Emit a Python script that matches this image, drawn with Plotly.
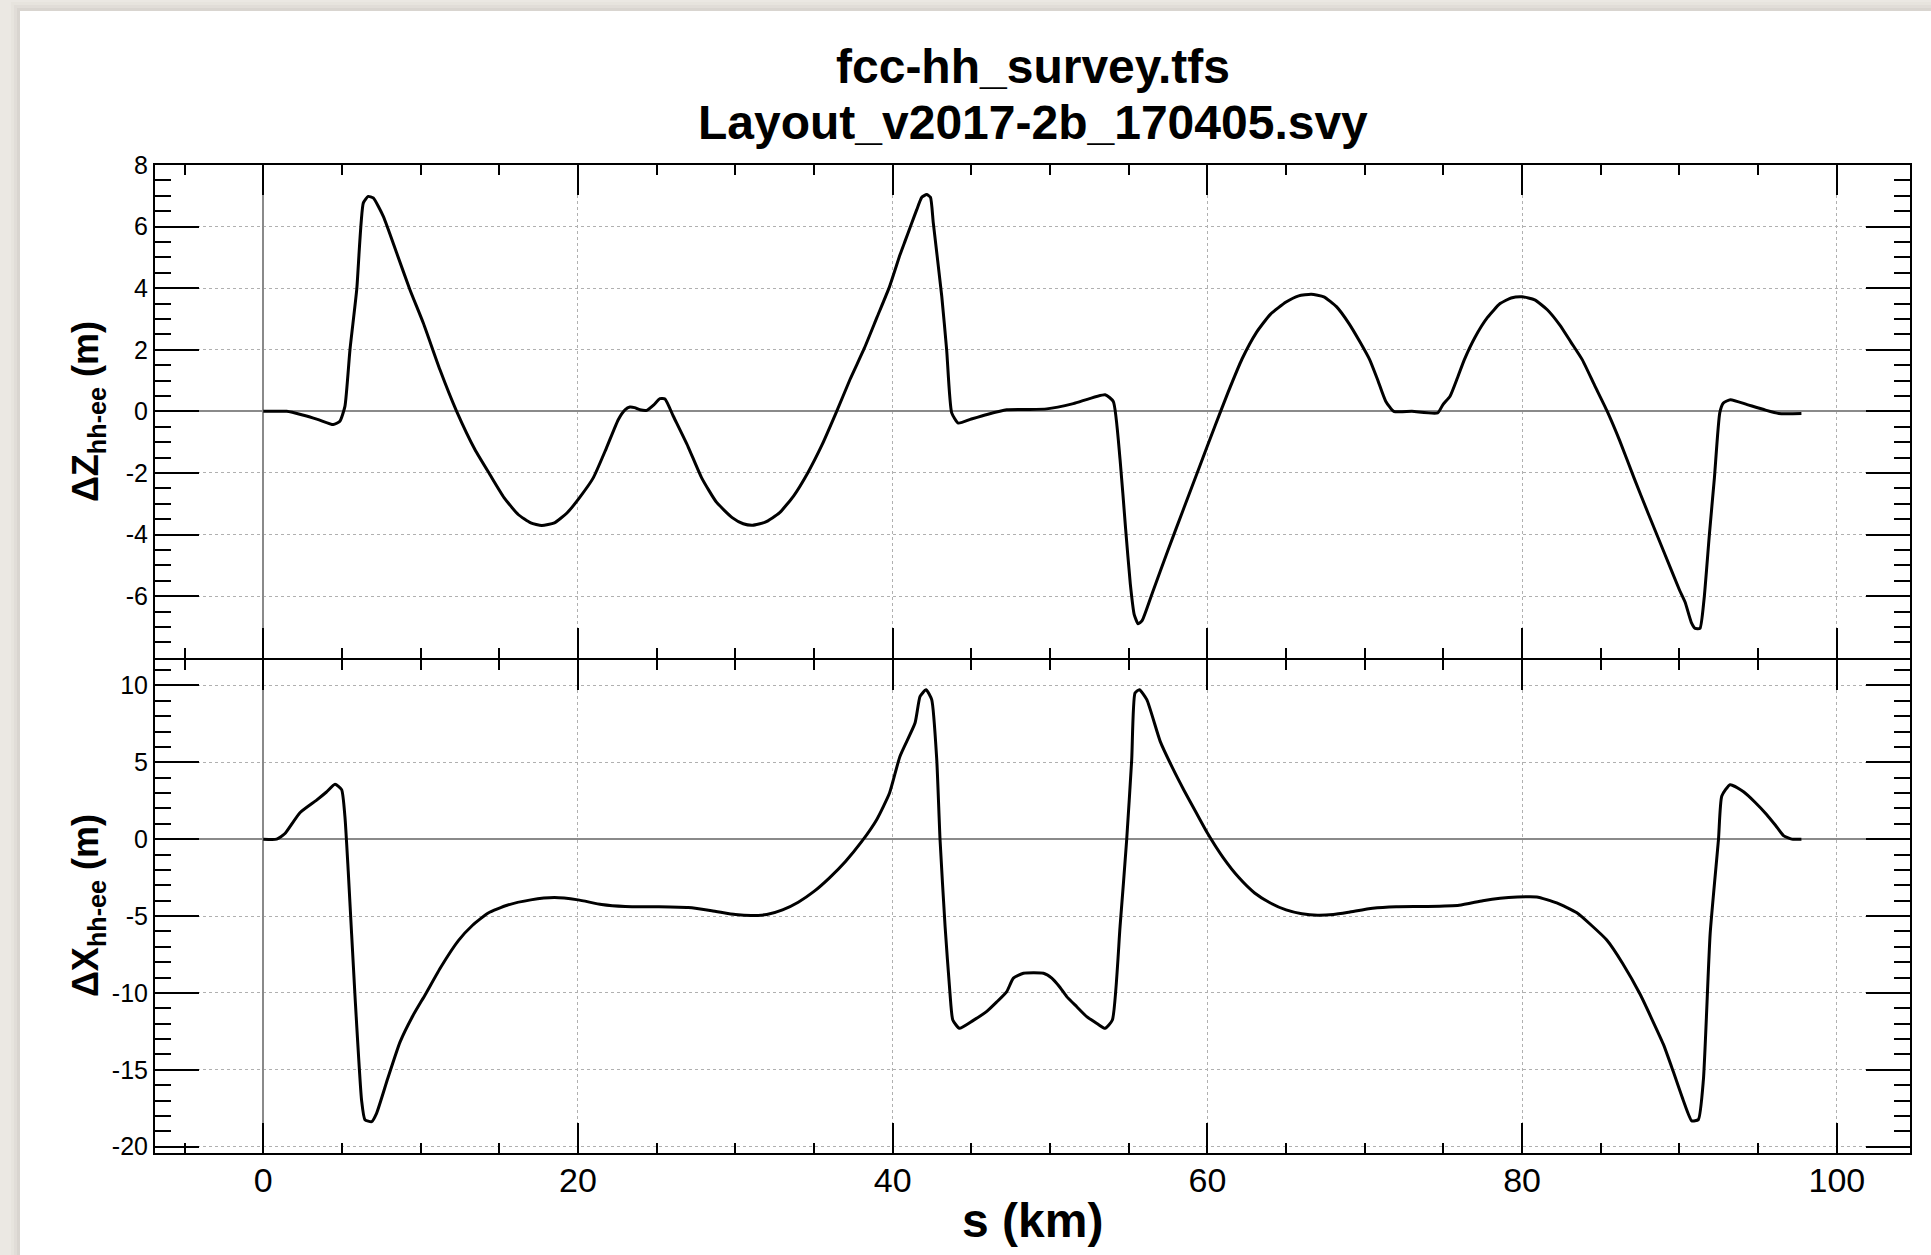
import plotly.graph_objects as go

# ---------------------------------------------------------------------------
# Survey differences FCC-hh minus FCC-ee along the ring (s in km, offsets in m)
# ---------------------------------------------------------------------------
s_dz = [0.0, 1.0, 1.49, 2.5, 3.5, 4.45, 4.87, 5.19, 5.51, 5.94, 6.36, 6.67, 6.99,
        7.63, 8.48, 9.32, 10.17, 11.23, 12.29, 13.45, 14.4, 15.3, 16.2, 17.0,
        17.7, 18.5, 19.3, 20.1, 20.97, 21.8, 22.56, 22.99, 23.3, 23.6, 23.94,
        24.37, 24.8, 25.21, 25.53, 26.06, 27.0, 27.86, 28.8, 29.8, 30.5, 31.1,
        31.9, 32.8, 33.7, 34.6, 35.5, 36.4, 37.3, 38.2, 39.0, 39.8, 40.47, 40.78,
        41.2, 41.53, 41.85, 42.16, 42.4, 42.58, 43.12, 43.43, 43.75, 44.17, 45.0,
        46.0, 47.25, 48.5, 49.79, 51.48, 53.5, 54.02, 54.45, 54.8, 55.1, 55.35,
        55.6, 55.85, 56.5, 57.5, 58.5, 59.5, 60.5, 61.3, 62.2, 63.1, 64.0, 65.0,
        65.8, 66.6, 67.4, 68.2, 69.0, 69.7, 70.31, 70.8, 71.33, 71.84, 73.0,
        74.63, 74.97, 75.42, 75.9, 76.33, 77.0, 77.8, 78.6, 79.3, 80.0, 80.8,
        81.6, 82.4, 83.1, 83.82, 84.6, 85.41, 86.2, 87.11, 88.0, 89.0, 90.0,
        90.36, 90.75, 91.0, 91.3, 91.56, 91.9, 92.22, 92.56, 92.79, 93.24, 94.3,
        95.4, 96.31, 97.75]
dz = [0.0, 0.0, 0.0, -0.12, -0.27, -0.43, -0.32, 0.16, 2.0, 3.95, 6.77, 6.98, 6.93,
      6.33, 5.14, 3.95, 2.87, 1.35, 0.0, -1.24, -2.05, -2.8, -3.35, -3.62,
      -3.71, -3.62, -3.3, -2.8, -2.16, -1.2, -0.27, 0.05, 0.14, 0.12, 0.05,
      0.03, 0.2, 0.41, 0.4, -0.16, -1.15, -2.16, -2.95, -3.45, -3.65, -3.7,
      -3.6, -3.3, -2.75, -2.0, -1.1, -0.05, 1.05, 2.05, 3.05, 4.05, 5.09, 5.52,
      6.1, 6.55, 6.95, 7.04, 6.95, 6.12, 3.73, 2.0, -0.05, -0.38, -0.25,
      -0.1, 0.05, 0.06, 0.08, 0.25, 0.54, 0.32, -1.57, -3.8, -5.6, -6.6,
      -6.9, -6.8, -5.9, -4.5, -3.15, -1.8, -0.45, 0.6, 1.7, 2.55, 3.15, 3.55,
      3.75, 3.8, 3.72, 3.4, 2.85, 2.25, 1.68, 1.05, 0.33, 0.0, 0.0,
      -0.05, 0.22, 0.49, 1.1, 1.68, 2.4, 3.05, 3.5, 3.68, 3.72, 3.62,
      3.3, 2.8, 2.25, 1.68, 0.85, 0.0, -0.95, -2.16, -3.3, -4.55, -5.8,
      -6.2, -6.85, -7.05, -7.05, -6.11, -4.0, -2.16, -0.05, 0.27, 0.38, 0.22,
      0.05, -0.07, -0.07]

s_dx = [0.0, 0.85, 1.38, 2.33, 3.39, 4.0, 4.56, 4.98, 5.19, 5.4, 5.83, 6.25, 6.46,
        6.89, 7.2, 7.9, 8.69, 9.5, 10.3, 11.3, 12.4, 13.3, 14.3, 15.5, 17.0, 18.5,
        20.0, 21.5, 23.0, 25.0, 27.0, 28.5, 30.0, 31.0, 32.0, 33.0, 34.0, 35.0,
        36.0, 37.0, 38.0, 39.0, 39.8, 40.46, 41.42, 41.74, 42.12, 42.48, 42.8,
        43.01, 43.33, 43.64, 43.82, 44.24, 45.1, 45.98, 46.6, 47.25, 47.67, 48.31,
        49.58, 50.11, 50.6, 51.06, 51.7, 52.33, 53.0, 53.5, 53.96, 54.45, 54.87,
        55.19, 55.4, 55.68, 56.15, 57.0, 57.8, 58.5, 59.3, 60.0, 61.0, 62.0, 63.0,
        64.0, 65.0, 66.0, 67.0, 68.0, 69.0, 70.5, 72.0, 74.0, 76.0, 77.5, 78.6,
        79.7, 80.93, 82.2, 83.48, 84.4, 85.38, 86.4, 87.5, 88.2, 88.98, 89.6,
        90.25, 90.78, 91.2, 91.52, 91.95, 92.48, 92.69, 93.22, 94.07, 94.8, 95.55,
        96.1, 96.61, 97.14, 97.75]
dx = [0.0, 0.0, 0.37, 1.72, 2.54, 3.05, 3.57, 3.22, 1.46, -2.08, -10.2, -17.0, -18.24,
      -18.37, -17.83, -15.6, -13.2, -11.5, -10.1, -8.3, -6.6, -5.6, -4.8, -4.3, -3.95, -3.8,
      -3.95, -4.25, -4.38, -4.4, -4.45, -4.65, -4.9, -4.97, -4.9, -4.6, -4.1, -3.4,
      -2.5, -1.45, -0.2, 1.3, 3.0, 5.38, 7.55, 9.28, 9.72, 9.07, 5.17,
      -0.04, -5.68, -10.02, -11.76, -12.3, -11.8, -11.2, -10.6, -9.91, -9.04, -8.72,
      -8.72, -9.04, -9.6, -10.24, -10.9, -11.54, -12.0, -12.3, -11.76, -5.68, -0.04,
      5.17, 9.5, 9.72, 9.07, 6.36, 4.6, 3.2, 1.7, 0.4, -1.2, -2.5, -3.5,
      -4.15, -4.6, -4.85, -4.95, -4.9, -4.75, -4.5, -4.4, -4.38, -4.3, -4.0, -3.84,
      -3.76, -3.76, -4.15, -4.79, -5.6, -6.56, -8.1, -10.09, -11.6, -13.35, -15.1,
      -17.01, -18.32, -18.24, -15.66, -6.15, 0.0, 2.81, 3.54, 3.08, 2.4, 1.59,
      0.9, 0.23, 0.0, 0.0]

# Axis ticks and labels
s_ticks = [0, 20, 40, 60, 80, 100]
dz_ticks = [-8, -6, -4, -2, 0, 2, 4, 6, 8]
dz_labels = ["", "-6", "-4", "-2", "0", "2", "4", "6", "8"]
dx_ticks = [-20, -15, -10, -5, 0, 5, 10]
dx_labels = ["-20", "-15", "-10", "-5", "0", "5", "10"]

title_lines = ["fcc-hh_survey.tfs", "Layout_v2017-2b_170405.svy"]

# ---------------------------------------------------------------------------
# Page geometry (pixels)
# ---------------------------------------------------------------------------
FIG_W, FIG_H = 1931, 1255
M_L, M_R, M_T, M_B = 155, 21, 165, 102
PW = FIG_W - M_L - M_R
PH = FIG_H - M_T - M_B
HALF_GAP = 1.0 / PH          # lets the two 2px frame lines fall on one row
SHEET_X, SHEET_Y = 20, 11    # top-left corner of the white sheet


def px_x(X):
    return (X - M_L) / PW


def px_y(Y):
    return (M_T + PH - Y) / PH


FONT = "Liberation Sans, Arial, Helvetica, sans-serif"

axis_common = dict(
    showline=True, linecolor="black", linewidth=2, mirror="allticks",
    ticks="inside", tickcolor="black", tickwidth=2,
    showgrid=True, gridcolor="#b0b0b0", gridwidth=1, griddash="dot",
    zeroline=True, zerolinecolor="#8a8a8a", zerolinewidth=1.5,
)

x_common = dict(
    axis_common, range=[-6.88, 104.65], tickmode="array", tickvals=s_ticks,
    ticklen=30,
    minor=dict(dtick=5, tick0=0, ticks="inside", ticklen=10, tickwidth=2,
               tickcolor="black", showgrid=False),
)

curve_style = dict(color="black", width=3, shape="spline", smoothing=0.5)

fig = go.Figure()
fig.add_trace(go.Scatter(x=s_dz, y=dz, xaxis="x2", yaxis="y", mode="lines",
                         line=curve_style, showlegend=False))
fig.add_trace(go.Scatter(x=s_dx, y=dx, xaxis="x", yaxis="y2", mode="lines",
                         line=curve_style, showlegend=False))

fig.update_layout(
    width=FIG_W, height=FIG_H,
    margin=dict(l=M_L, r=M_R, t=M_T, b=M_B, pad=0),
    paper_bgcolor="white", plot_bgcolor="rgba(0,0,0,0)",
    font=dict(family=FONT, color="black"),
    xaxis=dict(x_common, domain=[0, 1], anchor="y2", ticklabelstandoff=-4,
               tickfont=dict(family=FONT, size=34, color="black")),
    xaxis2=dict(x_common, domain=[0, 1], anchor="y", matches="x",
                showticklabels=False),
    yaxis=dict(axis_common, domain=[0.5 + HALF_GAP, 1], anchor="x2",
               range=[-8.01, 8],
               tickmode="array", tickvals=dz_ticks, ticktext=dz_labels, ticklen=44,
               minor=dict(dtick=0.5, tick0=0, ticks="inside", ticklen=16,
                          tickwidth=2, tickcolor="black", showgrid=False),
               tickfont=dict(family=FONT, size=25, color="black")),
    yaxis2=dict(axis_common, domain=[0, 0.5 - HALF_GAP], anchor="x",
                range=[-20.41, 11.65],
                tickmode="array", tickvals=dx_ticks, ticktext=dx_labels, ticklen=44,
                minor=dict(dtick=1, tick0=0, ticks="inside", ticklen=16,
                           tickwidth=2, tickcolor="black", showgrid=False),
                tickfont=dict(family=FONT, size=25, color="black")),
)

# Textured page border on the left and top of the white sheet, with a soft shadow
PAGE = "#ebe8e3"
shapes = [
    dict(type="rect", xref="paper", yref="paper", layer="below",
         x0=px_x(0), x1=px_x(SHEET_X), y0=px_y(FIG_H), y1=px_y(0),
         line=dict(width=0), fillcolor=PAGE),
    dict(type="rect", xref="paper", yref="paper", layer="below",
         x0=px_x(0), x1=px_x(FIG_W), y0=px_y(SHEET_Y), y1=px_y(0),
         line=dict(width=0), fillcolor=PAGE),
]
for off, alpha in [(9, 0.025), (6, 0.035), (3, 0.05)]:
    shapes.append(dict(type="rect", xref="paper", yref="paper", layer="below",
                       x0=px_x(SHEET_X - off), x1=px_x(SHEET_X), y0=px_y(FIG_H),
                       y1=px_y(SHEET_Y - off), line=dict(width=0),
                       fillcolor=f"rgba(80,70,60,{alpha})"))
    shapes.append(dict(type="rect", xref="paper", yref="paper", layer="below",
                       x0=px_x(SHEET_X), x1=px_x(FIG_W), y0=px_y(SHEET_Y),
                       y1=px_y(SHEET_Y - off), line=dict(width=0),
                       fillcolor=f"rgba(80,70,60,{alpha})"))
fig.update_layout(shapes=shapes)

# Titles and axis labels
ann = [
    dict(text="<b>" + title_lines[0] + "</b>", x=0.5, y=px_y(67),
         font=dict(family=FONT, size=48, color="black")),
    dict(text="<b>" + title_lines[1] + "</b>", x=0.5, y=px_y(122),
         font=dict(family=FONT, size=48, color="black")),
    dict(text="<b>s (km)</b>", x=0.5, y=px_y(1220),
         font=dict(family=FONT, size=48, color="black")),
    dict(text="<b>ΔZ<sub>hh-ee</sub> (m)</b>", x=px_x(88), y=px_y(412),
         textangle=-90, font=dict(family=FONT, size=36, color="black")),
    dict(text="<b>ΔX<sub>hh-ee</sub> (m)</b>", x=px_x(88), y=px_y(906),
         textangle=-90, font=dict(family=FONT, size=36, color="black")),
]
for a in ann:
    a.update(xref="paper", yref="paper", showarrow=False,
             xanchor="center", yanchor="middle")
fig.update_layout(annotations=ann)

# Page without body margin or scrollbars so the figure fills the window exactly
page_css = ("document.documentElement.style.margin='0';"
            "document.body.style.margin='0';"
            "document.body.style.overflow='hidden';"
            "document.documentElement.style.overflow='hidden';")

fig.write_html("out.html", post_script=page_css, config={"displayModeBar": False})
